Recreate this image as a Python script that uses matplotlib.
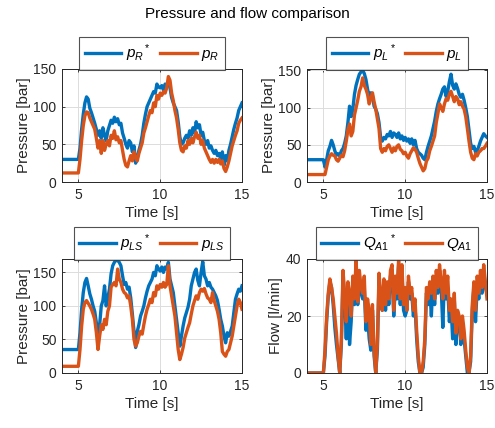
import numpy as np
import matplotlib
matplotlib.use('Agg')
import matplotlib.pyplot as plt

plt.rcParams['font.family'] = ['Liberation Sans', 'DejaVu Sans']
plt.rcParams['mathtext.fontset'] = 'custom'
plt.rcParams['mathtext.rm'] = 'Liberation Sans'
plt.rcParams['mathtext.it'] = 'Liberation Sans:italic'

# time axis: one point before the start, then 5.0 .. 15.0 s every 0.1 s
t = np.concatenate([[4.0], np.round(np.arange(50, 151) / 10, 1)])

pR_ref = [30,
    30, 45, 70, 90, 105, 113, 110, 98, 92, 85,
    78, 70, 62, 68, 58, 72, 62, 55, 68, 75,
    82, 78, 86, 80, 84, 76, 78, 65, 58, 50,
    45, 55, 52, 40, 48, 25, 32, 42, 50, 62,
    78, 90, 100, 105, 110, 115, 120, 118, 130, 126,
    125, 128, 122, 130, 128, 132, 125, 112, 105, 100,
    95, 80, 60, 50, 52, 58, 62, 58, 68, 62,
    72, 65, 80, 72, 76, 62, 66, 55, 50, 55,
    45, 48, 42, 38, 42, 35, 38, 30, 40, 22,
    35, 28, 42, 50, 60, 70, 78, 85, 95, 100,
    105]
pR = [12,
    12, 30, 55, 75, 88, 93, 92, 85, 80, 75,
    70, 58, 45, 55, 38, 55, 42, 50, 55, 48,
    62, 58, 68, 56, 60, 52, 55, 42, 30, 22,
    20, 28, 35, 28, 40, 32, 28, 38, 45, 52,
    65, 72, 80, 88, 95, 92, 105, 100, 115, 110,
    118, 115, 120, 118, 125, 140, 135, 118, 108, 95,
    85, 70, 52, 42, 40, 48, 45, 55, 50, 58,
    52, 60, 66, 58, 62, 50, 55, 45, 40, 35,
    30, 26, 30, 25, 30, 26, 30, 24, 28, 18,
    14, 20, 28, 38, 48, 55, 62, 68, 78, 82,
    85]

pL_ref = [30,
    30, 20, 30, 42, 48, 56, 50, 42, 36, 38,
    35, 42, 45, 52, 62, 80, 102, 88, 98, 118,
    130, 138, 145, 148, 150, 146, 138, 125, 115, 120,
    116, 102, 98, 92, 80, 60, 55, 60, 58, 64,
    62, 68, 60, 66, 64, 60, 66, 58, 62, 56,
    60, 55, 58, 52, 58, 50, 56, 45, 40, 38,
    36, 32, 30, 40, 48, 55, 62, 72, 82, 95,
    105, 112, 118, 125, 128, 115, 122, 135, 145, 130,
    125, 132, 126, 118, 114, 118, 110, 100, 88, 70,
    52, 45, 48, 40, 42, 48, 55, 60, 65, 62,
    60]
pL = [10,
    10, 10, 20, 30, 35, 38, 36, 35, 30, 28,
    32, 36, 34, 42, 55, 70, 78, 62, 68, 90,
    100, 110, 122, 128, 140, 130, 125, 118, 105, 112,
    120, 108, 98, 85, 72, 45, 40, 45, 42, 48,
    50, 45, 40, 46, 42, 48, 50, 44, 42, 38,
    40, 35, 32, 38, 42, 46, 44, 40, 32, 25,
    20, 15, 18, 28, 32, 42, 48, 55, 62, 80,
    92, 105, 100, 95, 105, 112, 110, 118, 122, 115,
    108, 115, 112, 104, 108, 102, 98, 88, 72, 55,
    40, 32, 30, 38, 35, 40, 42, 45, 45, 48,
    52]

pLS_ref = [35,
    35, 60, 95, 120, 135, 141, 130, 118, 110, 100,
    92, 75, 55, 72, 100, 108, 130, 100, 112, 125,
    148, 160, 165, 168, 168, 165, 160, 145, 132, 135,
    125, 128, 112, 88, 62, 38, 62, 72, 85, 92,
    100, 112, 122, 130, 135, 140, 150, 145, 160, 155,
    152, 158, 150, 158, 155, 165, 140, 130, 120, 100,
    80, 60, 40, 55, 70, 82, 90, 98, 110, 130,
    140, 150, 155, 138, 130, 150, 166, 145, 140, 130,
    135, 128, 125, 120, 115, 108, 95, 80, 70, 55,
    45, 60, 55, 62, 70, 90, 110, 118, 125, 122,
    130]
pLS = [10,
    10, 35, 70, 95, 105, 108, 104, 100, 95, 88,
    80, 60, 35, 55, 72, 65, 80, 72, 92, 100,
    128, 132, 135, 130, 155, 140, 135, 125, 120, 118,
    112, 115, 100, 80, 50, 40, 45, 55, 62, 58,
    72, 85, 95, 102, 110, 105, 120, 115, 130, 125,
    132, 128, 135, 128, 132, 160, 130, 115, 100, 85,
    60, 35, 20, 28, 38, 52, 60, 68, 75, 88,
    100, 108, 115, 110, 120, 125, 122, 126, 118, 112,
    110, 105, 120, 108, 100, 92, 80, 60, 32, 28,
    25, 32, 35, 45, 55, 70, 85, 100, 110, 105,
    95]

QA1_ref = [0,
    0, 6, 18, 27, 32, 30, 24, 16, 10, 5,
    0, 10, 34, 26, 12, 30, 10, 18, 32, 24,
    38, 24, 34, 28, 26, 30, 15, 20, 12, 8,
    22, 6, 0, 8, 33, 26, 22, 30, 22, 30,
    24, 34, 36, 20, 30, 26, 38, 24, 35, 22,
    20, 22, 32, 26, 28, 20, 24, 12, 4, 0,
    0, 2, 10, 28, 24, 30, 20, 32, 24, 34,
    28, 36, 30, 16, 34, 26, 30, 18, 24, 12,
    26, 10, 20, 18, 10, 16, 12, 6, 0, 0,
    4, 22, 30, 18, 30, 26, 34, 28, 36, 30,
    28]
QA1 = [0,
    0, 8, 20, 28, 33, 30, 26, 20, 14, 6,
    0, 12, 36, 28, 18, 32, 28, 20, 34, 26,
    40, 25, 36, 30, 28, 34, 18, 26, 22, 10,
    24, 8, 0, 10, 35, 28, 22, 33, 24, 32,
    26, 36, 38, 22, 34, 28, 40, 26, 38, 24,
    30, 22, 34, 28, 30, 22, 26, 15, 6, 0,
    0, 4, 12, 30, 26, 32, 28, 34, 26, 36,
    30, 38, 32, 26, 36, 28, 34, 22, 26, 18,
    28, 14, 22, 20, 12, 20, 15, 8, 2, 0,
    6, 24, 32, 22, 34, 28, 36, 30, 38, 32,
    26]

panels = [
    (pR_ref, pR, r'$p_R{}^*$', r'$p_R$', 'Pressure [bar]', (0, 150), [0, 50, 100, 150]),
    (pL_ref, pL, r'$p_L{}^*$', r'$p_L$', 'Pressure [bar]', (0, 152), [0, 50, 100, 150]),
    (pLS_ref, pLS, r'$p_{LS}{}^*$', r'$p_{LS}$', 'Pressure [bar]', (0, 170), [0, 50, 100, 150]),
    (QA1_ref, QA1, r'$Q_{A1}{}^*$', r'$Q_{A1}$', 'Flow [l/min]', (0, 40), [0, 20, 40]),
]

blue = '#0072BD'
orange = '#D95319'
dark = '#262626'

fig = plt.figure(figsize=(4.95, 4.28), dpi=100)
boxes = [
    [62 / 495, 1 - 182 / 428, 180 / 495, 113 / 428],
    [307 / 495, 1 - 182 / 428, 180 / 495, 113 / 428],
    [62 / 495, 1 - 373 / 428, 180 / 495, 114 / 428],
    [307 / 495, 1 - 373 / 428, 180 / 495, 114 / 428],
]

for box, (ref, act, lab1, lab2, ylab, ylim, yticks) in zip(boxes, panels):
    ax = fig.add_axes(box)
    ax.plot(t, ref, color=blue, linewidth=2.4, label=lab1)
    ax.plot(t, act, color=orange, linewidth=2.4, label=lab2)
    ax.set_xlim(4, 15)
    ax.set_ylim(*ylim)
    ax.set_xticks([5, 10, 15])
    ax.set_yticks(yticks)
    ax.grid(True, color='#dcdcdc', linewidth=0.7)
    ax.set_axisbelow(True)
    ax.tick_params(direction='in', length=2.5, width=0.6, colors=dark,
                   labelsize=10, top=True, right=True, pad=4)
    for sp in ax.spines.values():
        sp.set_color(dark)
        sp.set_linewidth(0.7)
    ax.set_xlabel('Time [s]', fontsize=11, color=dark, labelpad=3)
    ax.set_ylabel(ylab, fontsize=11, color=dark, labelpad=2)
    leg = ax.legend(loc='lower center', bbox_to_anchor=(0.5, 0.995), ncol=2,
                    fontsize=11, frameon=True, fancybox=False, handlelength=2.4,
                    handletextpad=0.3, columnspacing=0.6, borderpad=0.35,
                    borderaxespad=0)
    leg.get_frame().set_edgecolor(dark)
    leg.get_frame().set_linewidth(0.8)
    for h in leg.get_lines():
        h.set_linewidth(2.4)

fig.text(0.5, 1 - 14 / 428, 'Pressure and flow comparison', ha='center', va='center',
         fontsize=11, color='black')

fig.savefig('out.png', dpi=100)
